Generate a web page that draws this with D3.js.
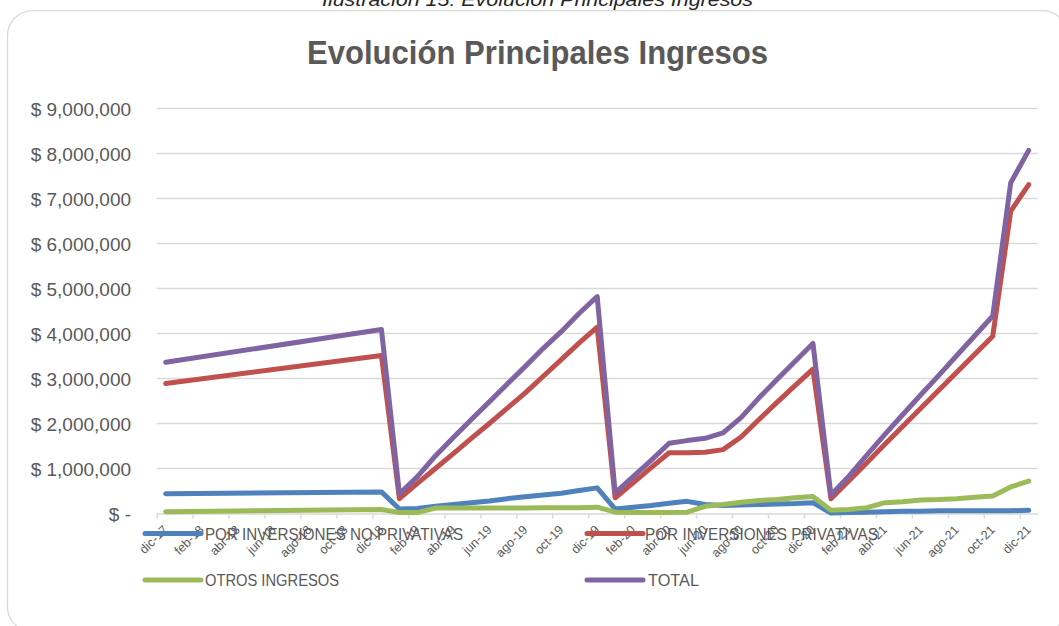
<!DOCTYPE html>
<html>
<head>
<meta charset="utf-8">
<script src="https://cdn.jsdelivr.net/npm/d3@7/dist/d3.min.js"></script>
<style>
  html, body { margin: 0; padding: 0; background: #ffffff; }
  svg { display: block; }
  text { font-family: "Liberation Sans", Arial, sans-serif; }
</style>
</head>
<body>
<svg id="chart" width="1059" height="626"></svg>
<script>
// ---------- DATA ----------
const months = [
  "dic-17","ene-18","feb-18","mar-18","abr-18","may-18","jun-18","jul-18","ago-18","sep-18","oct-18","nov-18",
  "dic-18","ene-19","feb-19","mar-19","abr-19","may-19","jun-19","jul-19","ago-19","sep-19","oct-19","nov-19",
  "dic-19","ene-20","feb-20","mar-20","abr-20","may-20","jun-20","jul-20","ago-20","sep-20","oct-20","nov-20",
  "dic-20","ene-21","feb-21","mar-21","abr-21","may-21","jun-21","jul-21","ago-21","sep-21","oct-21","nov-21",
  "dic-21"
];
const N = null;
// POR INVERSIONES NO PRIVATIVAS
const noPrivativas = [
  440000, N,N,N,N,N,N,N,N,N,N,N,
  480000, 100000,110000,160000,200000,240000,280000,330000,370000,410000,450000,510000,
  570000, 100000,140000,180000,230000,270000,200000,180000,190000,200000,210000,220000,
  240000, 10000,20000,30000,40000,50000,50000,60000,60000,60000,60000,60000,
  70000
];
// POR INVERSIONES PRIVATIVAS
const privativas = [
  2890000, N,N,N,N,N,N,N,N,N,N,N,
  3510000, 330000,670000,1000000,1330000,1670000,2000000,2340000,2680000,3050000,3420000,3790000,
  4140000, 350000,680000,1020000,1350000,1350000,1360000,1420000,1700000,2090000,2470000,2840000,
  3210000, 330000,730000,1130000,1540000,1940000,2340000,2740000,3140000,3540000,3940000,6720000,
  7310000
];
// OTROS INGRESOS
const otros = [
  40000, N,N,N,N,N,N,N,N,N,N,N,
  90000, 20000,20000,120000,120000,120000,120000,120000,120000,130000,130000,130000,
  140000, 30000,20000,20000,20000,30000,160000,200000,250000,290000,310000,350000,
  380000, 70000,90000,130000,240000,260000,300000,310000,330000,360000,390000,590000,
  720000
];
// TOTAL
const total = [
  3360000, N,N,N,N,N,N,N,N,N,N,N,
  4090000, 440000,820000,1280000,1690000,2090000,2480000,2880000,3270000,3670000,4040000,4450000,
  4820000, 460000,820000,1180000,1560000,1620000,1670000,1790000,2130000,2570000,2980000,3380000,
  3780000, 410000,830000,1300000,1760000,2200000,2640000,3070000,3510000,3950000,4390000,7350000,
  8070000
];
const yTicks = [0,1000000,2000000,3000000,4000000,5000000,6000000,7000000,8000000,9000000];
const seriesNames = ["POR INVERSIONES NO PRIVATIVAS","POR INVERSIONES PRIVATIVAS","OTROS INGRESOS","TOTAL"];
const seriesColors = ["#4F81BD","#C0504D","#9BBB59","#8064A2"];
const chartTitle = "Evolución Principales Ingresos";
const chartCaption = "Ilustración 15: Evolución Principales Ingresos";

// ---------- LAYOUT ----------
const svg = d3.select("#chart");
const plotLeft = 156.7, plotRight = 1037.7, plotTop = 108.5, plotBottom = 513.5;
const textColor = "#595959", gridColor = "#D9D9D9";

const x = d3.scaleLinear().domain([0, months.length]).range([plotLeft, plotRight]);
const y = d3.scaleLinear().domain([0, 9000000]).range([plotBottom, plotTop]);
const cx = i => x(i + 0.5);

// caption (partly cut at top, as in the source page)
svg.append("text")
  .attr("x", 537.5).attr("y", 5.5)
  .attr("text-anchor", "middle")
  .attr("font-size", 19).attr("font-style", "italic")
  .attr("fill", "#262626")
  .attr("textLength", 431).attr("lengthAdjust", "spacingAndGlyphs")
  .text(chartCaption);

// chart border
svg.append("rect")
  .attr("x", 7.5).attr("y", 10.7).attr("width", 1060).attr("height", 621).attr("rx", 25).attr("ry", 25)
  .attr("fill", "#ffffff").attr("stroke", gridColor).attr("stroke-width", 1.3);

// title
svg.append("text")
  .attr("x", 537.5).attr("y", 64)
  .attr("text-anchor", "middle")
  .attr("font-size", 33).attr("font-weight", "bold")
  .attr("fill", textColor)
  .attr("textLength", 461).attr("lengthAdjust", "spacingAndGlyphs")
  .text(chartTitle);

// gridlines
svg.append("g").selectAll("line")
  .data(yTicks.filter(d => d > 0))
  .join("line")
  .attr("x1", plotLeft).attr("x2", plotRight)
  .attr("y1", d => y(d)).attr("y2", d => y(d))
  .attr("stroke", gridColor).attr("stroke-width", 1.4);

// y axis (labels only)
const yAxis = d3.axisLeft(y)
  .tickValues(yTicks)
  .tickSize(0)
  .tickPadding(25.7)
  .tickFormat(d => d === 0 ? "$ -" : "$ " + d3.format(",")(d));
const gy = svg.append("g").attr("transform", `translate(${plotLeft},0)`).call(yAxis);
gy.select(".domain").remove();
gy.selectAll("text")
  .attr("font-size", 19).attr("fill", textColor)
  .attr("font-family", "'Liberation Sans', Arial, sans-serif")
  .attr("dy", "0.36em");

// x axis with tick marks at every second month boundary
const tickIdx = d3.range(0, months.length, 2);
const xAxis = d3.axisBottom(x)
  .tickValues(tickIdx)
  .tickSize(5)
  .tickSizeOuter(0)
  .tickFormat("");
const gx = svg.append("g").attr("transform", `translate(0,${plotBottom})`).call(xAxis);
gx.select(".domain").attr("stroke", gridColor).attr("stroke-width", 1.4);
gx.selectAll(".tick line").attr("stroke", gridColor).attr("stroke-width", 1.4);

// rotated month labels
svg.append("g").selectAll("text")
  .data(tickIdx)
  .join("text")
  .attr("transform", i => `translate(${cx(i) + 3},${plotBottom + 17}) rotate(-45)`)
  .attr("text-anchor", "end")
  .attr("font-size", 12.5).attr("fill", textColor)
  .text(i => months[i]);

// lines
const allSeries = [noPrivativas, privativas, otros, total];
const line = d3.line()
  .x(d => cx(d.i))
  .y(d => y(d.v));
allSeries.forEach((vals, k) => {
  const pts = vals.map((v, i) => ({ i, v })).filter(d => d.v !== null);
  svg.append("path")
    .datum(pts)
    .attr("d", line)
    .attr("fill", "none")
    .attr("stroke", seriesColors[k])
    .attr("stroke-width", 5)
    .attr("stroke-linejoin", "round")
    .attr("stroke-linecap", "round");
});

// legend
const legendPos = [
  { lx: 145, ly: 533.5, tx: 205, tw: 258 },
  { lx: 587, ly: 533.5, tx: 645, tw: 233 },
  { lx: 145, ly: 580, tx: 205, tw: 134 },
  { lx: 587, ly: 580, tx: 648, tw: 51 }
];
const lg = svg.append("g");
seriesNames.forEach((name, k) => {
  const p = legendPos[k];
  lg.append("line")
    .attr("x1", p.lx).attr("x2", p.lx + 56)
    .attr("y1", p.ly).attr("y2", p.ly)
    .attr("stroke", seriesColors[k]).attr("stroke-width", 5)
    .attr("stroke-linecap", "round");
  lg.append("text")
    .attr("x", p.tx).attr("y", p.ly + 6.3)
    .attr("font-size", 17).attr("fill", textColor)
    .attr("textLength", p.tw).attr("lengthAdjust", "spacingAndGlyphs")
    .text(name);
});
</script>
</body>
</html>
